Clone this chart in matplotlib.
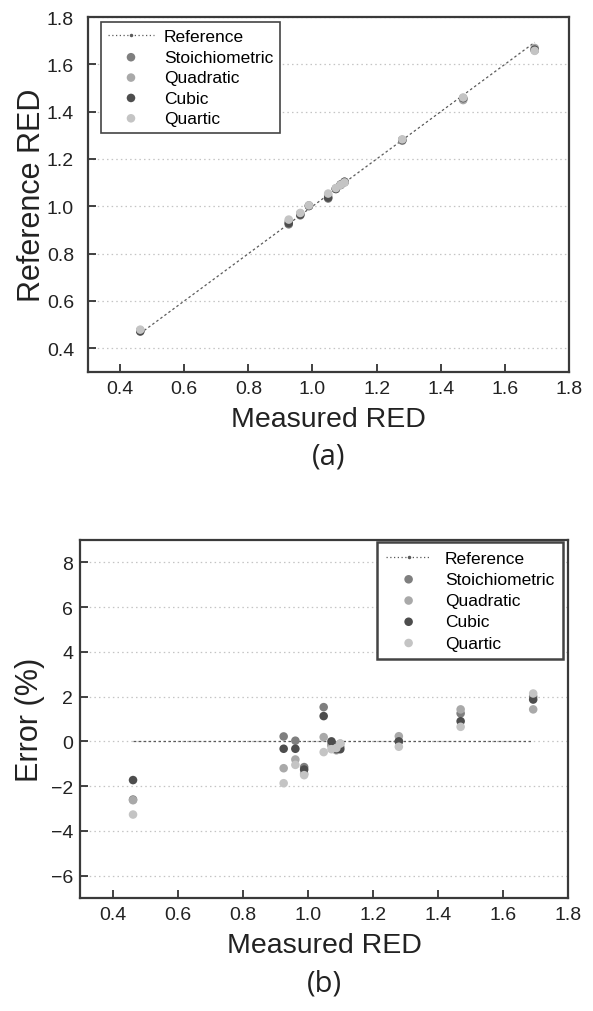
import matplotlib
matplotlib.use("Agg")
import matplotlib.pyplot as plt
from matplotlib.lines import Line2D

plt.rcParams['font.family'] = ['Liberation Sans', 'DejaVu Sans']

# measured RED (x) for each sample
measured = [0.463, 0.926, 0.962, 0.989, 1.049, 1.073, 1.088, 1.100, 1.280, 1.470, 1.693]

# reference RED
ref_stoich = [0.475, 0.924, 0.962, 1.001, 1.033, 1.075, 1.090, 1.103, 1.280, 1.452, 1.659]
ref_quad = [0.476, 0.937, 0.970, 1.004, 1.047, 1.075, 1.092, 1.101, 1.277, 1.449, 1.669]
ref_cubic = [0.471, 0.929, 0.965, 1.002, 1.037, 1.073, 1.092, 1.104, 1.280, 1.457, 1.662]
ref_quartic = [0.479, 0.944, 0.972, 1.004, 1.054, 1.077, 1.091, 1.101, 1.283, 1.460, 1.657]

# error (%)
err_stoich = [-2.60, 0.22, 0.03, -1.15, 1.53, -0.15, -0.20, -0.25, 0.00, 1.25, 2.00]
err_quad = [-2.63, -1.20, -0.81, -1.45, 0.19, -0.20, -0.40, -0.10, 0.23, 1.43, 1.43]
err_cubic = [-1.73, -0.33, -0.33, -1.26, 1.13, 0.00, -0.35, -0.35, 0.00, 0.90, 1.87]
err_quartic = [-3.27, -1.87, -1.05, -1.51, -0.48, -0.35, -0.30, -0.10, -0.24, 0.65, 2.14]

names = ["Stoichiometric", "Quadratic", "Cubic", "Quartic"]
colors = ["#7f7f7f", "#a9a9a9", "#4d4d4d", "#c4c4c4"]

x_ticks = [0.4, 0.6, 0.8, 1.0, 1.2, 1.4, 1.6, 1.8]
y_ticks_a = [0.4, 0.6, 0.8, 1.0, 1.2, 1.4, 1.6, 1.8]
y_ticks_b = [-6, -4, -2, 0, 2, 4, 6, 8]

SPINE = "#3a3a3a"
REF_C = "#5a5a5a"

fig = plt.figure(figsize=(5.93, 10.12), dpi=100)
ax1 = fig.add_axes([88 / 593, 1 - 373 / 1012, 481 / 593, 355 / 1012])
ax2 = fig.add_axes([80 / 593, 1 - 899 / 1012, 488 / 593, 358 / 1012])


def style(ax, yticks):
    ax.set_xticks(x_ticks)
    ax.set_yticks(yticks)
    ax.set_xticklabels([f"{t:.1f}" for t in x_ticks])
    ax.tick_params(direction="in", length=6, width=1.3, colors="#333333",
                   labelsize=14, labelcolor="#222222")
    ax.tick_params(axis="x", pad=6)
    for s in ax.spines.values():
        s.set_color(SPINE)
        s.set_linewidth(1.6)
    ax.yaxis.grid(True, linestyle=(0, (1.2, 2.5)), color="#c4c4c4", linewidth=0.9)
    ax.set_axisbelow(True)


# ---- (a) ----
ref_handle = Line2D([], [], color=REF_C, linestyle=(0, (1, 2)), linewidth=0.9,
                    marker=".", markersize=3)
ax1.plot([measured[0], measured[-1]], [measured[0], measured[-1]],
         color=REF_C, linestyle=(0, (2, 2)), linewidth=0.9, zorder=2)
for vals, name, c in zip([ref_stoich, ref_quad, ref_cubic, ref_quartic], names, colors):
    ax1.scatter(measured, vals, s=38, color=c, edgecolors="none", label=name, zorder=3)
ax1.set_xlim(0.3, 1.8)
ax1.set_ylim(0.3, 1.8)
style(ax1, y_ticks_a)
ax1.set_yticklabels([f"{t:.1f}" for t in y_ticks_a])
ax1.tick_params(axis="y", pad=10)
ax1.set_xlabel("Measured RED", fontsize=20.5, labelpad=6, color="#222222")
ax1.set_ylabel("Reference RED", fontsize=22, labelpad=0, color="#222222")
h, l = ax1.get_legend_handles_labels()
leg1 = ax1.legend([ref_handle] + h, ["Reference"] + l, loc="upper left",
                  bbox_to_anchor=(0.028, 0.985), fontsize=12.5, frameon=True,
                  fancybox=False, edgecolor="#444444", framealpha=1,
                  handlelength=2.6, handletextpad=0.6, labelspacing=0.3,
                  borderpad=0.4, scatterpoints=1, borderaxespad=0)
leg1.get_frame().set_linewidth(1.2)
fig.text(ax1.get_position().x0 + ax1.get_position().width / 2, 1 - 457 / 1012, "(a)",
         ha="center", va="center", fontsize=21, family=["Open Sans", "DejaVu Sans"],
         color="#222222")

# ---- (b) ----
ax2.plot([measured[0], measured[-1]], [0, 0], color=REF_C,
         linestyle=(0, (2, 2)), linewidth=0.9, zorder=2)
for vals, name, c in zip([err_stoich, err_quad, err_cubic, err_quartic], names, colors):
    ax2.scatter(measured, vals, s=38, color=c, edgecolors="none", label=name, zorder=3)
ax2.set_xlim(0.3, 1.8)
ax2.set_ylim(-7, 9)
style(ax2, y_ticks_b)
ax2.tick_params(axis="y", pad=5)
ax2.set_xlabel("Measured RED", fontsize=20.5, labelpad=6, color="#222222")
ax2.set_ylabel("Error (%)", fontsize=22, labelpad=4, color="#222222")
h, l = ax2.get_legend_handles_labels()
leg2 = ax2.legend([ref_handle] + h, ["Reference"] + l, loc="upper right",
                  bbox_to_anchor=(0.99, 0.995), fontsize=12.5, frameon=True,
                  fancybox=False, edgecolor="#444444", framealpha=1,
                  handlelength=2.6, handletextpad=0.8, labelspacing=0.35,
                  borderpad=0.5, scatterpoints=1, borderaxespad=0)
leg2.get_frame().set_linewidth(1.8)
fig.text(ax2.get_position().x0 + ax2.get_position().width / 2, 1 - 984 / 1012, "(b)",
         ha="center", va="center", fontsize=21, family=["Open Sans", "DejaVu Sans"],
         color="#222222")

fig.savefig("out.png", dpi=100)
